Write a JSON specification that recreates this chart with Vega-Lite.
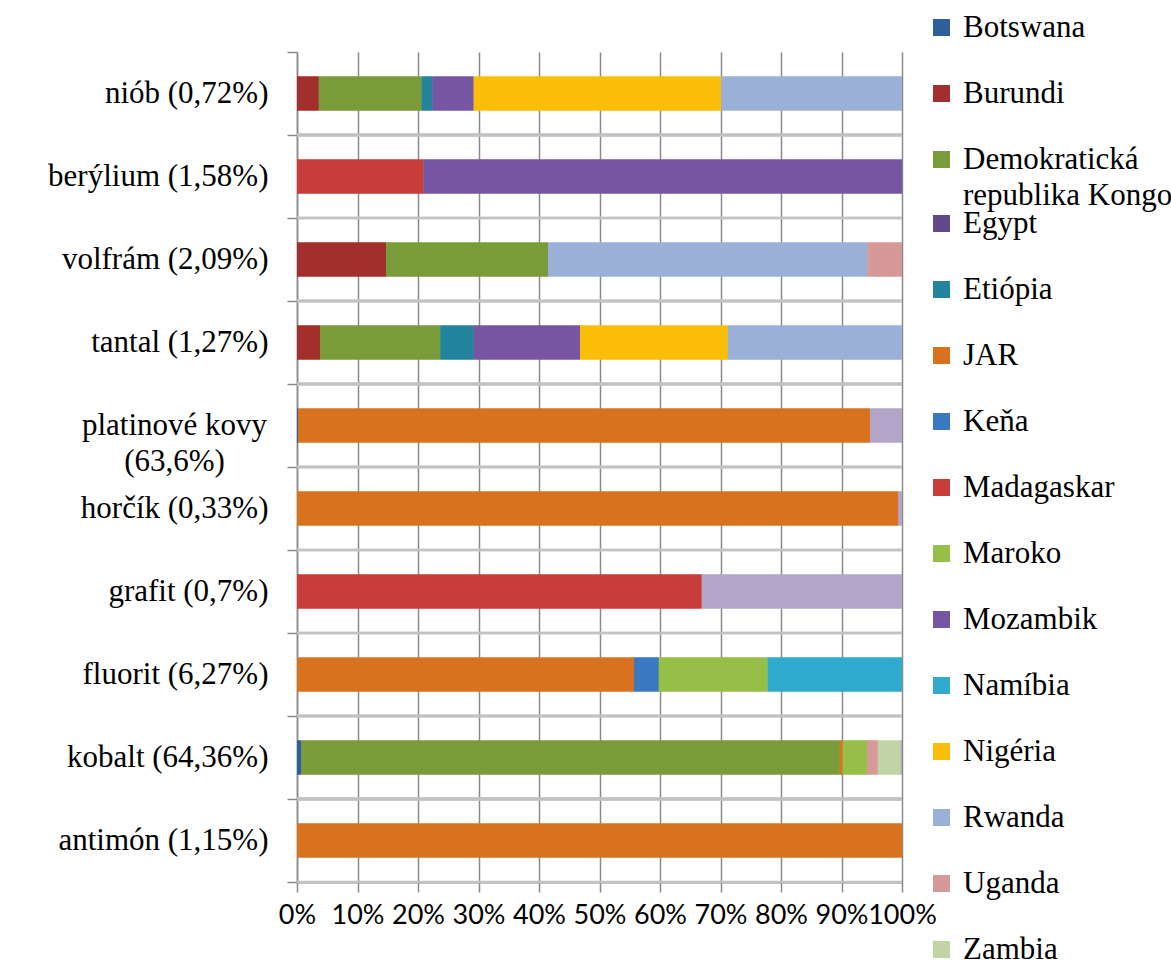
{
  "$schema": "https://vega.github.io/schema/vega-lite/v6.json",
  "autosize": {"type": "none"},
  "width": 605,
  "height": 830,
  "padding": {"left": 297, "top": 52, "right": 269, "bottom": 97},
  "background": "white",
  "data": {
    "values": [
      {"m": "niób (0,72%)", "k": "Burundi", "p": 3.6},
      {"m": "niób (0,72%)", "k": "Demokratická republika Kongo", "p": 17.0},
      {"m": "niób (0,72%)", "k": "Etiópia", "p": 1.8},
      {"m": "niób (0,72%)", "k": "Mozambik", "p": 6.8},
      {"m": "niób (0,72%)", "k": "Nigéria", "p": 40.9},
      {"m": "niób (0,72%)", "k": "Rwanda", "p": 29.9},
      {"m": "berýlium (1,58%)", "k": "Madagaskar", "p": 20.9},
      {"m": "berýlium (1,58%)", "k": "Mozambik", "p": 79.1},
      {"m": "volfrám (2,09%)", "k": "Burundi", "p": 14.7},
      {"m": "volfrám (2,09%)", "k": "Demokratická republika Kongo", "p": 26.8},
      {"m": "volfrám (2,09%)", "k": "Rwanda", "p": 52.8},
      {"m": "volfrám (2,09%)", "k": "Uganda", "p": 5.7},
      {"m": "tantal (1,27%)", "k": "Burundi", "p": 3.8},
      {"m": "tantal (1,27%)", "k": "Demokratická republika Kongo", "p": 19.9},
      {"m": "tantal (1,27%)", "k": "Etiópia", "p": 5.5},
      {"m": "tantal (1,27%)", "k": "Mozambik", "p": 17.6},
      {"m": "tantal (1,27%)", "k": "Nigéria", "p": 24.4},
      {"m": "tantal (1,27%)", "k": "Rwanda", "p": 28.8},
      {"m": "platinové kovy (63,6%)", "k": "Botswana", "p": 0.2},
      {"m": "platinové kovy (63,6%)", "k": "JAR", "p": 94.5},
      {"m": "platinové kovy (63,6%)", "k": "Zimbabwe", "p": 5.3},
      {"m": "horčík (0,33%)", "k": "JAR", "p": 99.4},
      {"m": "horčík (0,33%)", "k": "Zimbabwe", "p": 0.6},
      {"m": "grafit (0,7%)", "k": "Madagaskar", "p": 66.9},
      {"m": "grafit (0,7%)", "k": "Zimbabwe", "p": 33.1},
      {"m": "fluorit (6,27%)", "k": "JAR", "p": 55.7},
      {"m": "fluorit (6,27%)", "k": "Keňa", "p": 4.1},
      {"m": "fluorit (6,27%)", "k": "Maroko", "p": 18.0},
      {"m": "fluorit (6,27%)", "k": "Namíbia", "p": 22.2},
      {"m": "kobalt (64,36%)", "k": "Botswana", "p": 0.7},
      {"m": "kobalt (64,36%)", "k": "Demokratická republika Kongo", "p": 89.0},
      {"m": "kobalt (64,36%)", "k": "JAR", "p": 0.5},
      {"m": "kobalt (64,36%)", "k": "Maroko", "p": 4.0},
      {"m": "kobalt (64,36%)", "k": "Uganda", "p": 1.8},
      {"m": "kobalt (64,36%)", "k": "Zambia", "p": 3.8},
      {"m": "kobalt (64,36%)", "k": "Zimbabwe", "p": 0.2},
      {"m": "antimón (1,15%)", "k": "JAR", "p": 100}
    ]
  },
  "encoding": {
    "y": {
      "field": "m",
      "type": "nominal",
      "sort": ["niób (0,72%)", "berýlium (1,58%)", "volfrám (2,09%)", "tantal (1,27%)", "platinové kovy (63,6%)", "horčík (0,33%)", "grafit (0,7%)", "fluorit (6,27%)", "kobalt (64,36%)", "antimón (1,15%)"],
      "scale": {"paddingInner": 0, "paddingOuter": 0},
      "axis": {
        "title": null,
        "grid": false,
        "tickBand": "extent",
        "domainColor": "#8a8a8a",
        "domainWidth": 1.5,
        "tickColor": "#8a8a8a",
        "tickWidth": 1.5,
        "tickSize": 10,
        "labelFont": "Liberation Serif",
        "labelFontSize": 31,
        "labelColor": "#000000",
        "labelLimit": 400,
        "labelLineHeight": 36,
        "labelPadding": {"condition": {"test": "datum.value == 'platinové kovy (63,6%)'", "value": 113}, "value": 19},
        "labelAlign": {"condition": {"test": "datum.value == 'platinové kovy (63,6%)'", "value": "center"}, "value": "right"},
        "labelExpr": "datum.value == 'platinové kovy (63,6%)' ? ['platinové kovy', '(63,6%)'] : datum.value"
      }
    }
  },
  "layer": [
    {
      "mark": {"type": "rule", "color": "#c2c2c2", "strokeWidth": 2.5},
      "encoding": {
        "y": {
          "field": "m",
          "type": "nominal",
          "bandPosition": 1,
          "sort": ["niób (0,72%)", "berýlium (1,58%)", "volfrám (2,09%)", "tantal (1,27%)", "platinové kovy (63,6%)", "horčík (0,33%)", "grafit (0,7%)", "fluorit (6,27%)", "kobalt (64,36%)", "antimón (1,15%)"]
        }
      }
    },
    {
      "mark": {"type": "bar", "height": {"band": 0.41}},
      "encoding": {
        "x": {
          "field": "p",
          "type": "quantitative",
          "stack": "normalize",
          "scale": {"domain": [0, 1], "nice": false},
          "axis": {
            "title": null,
            "format": ".0%",
            "values": [0, 0.1, 0.2, 0.3, 0.4, 0.5, 0.6, 0.7, 0.8, 0.9, 1],
            "grid": true,
            "gridColor": "#8a8a8a",
            "gridWidth": 1.5,
            "domainColor": "#8a8a8a",
            "domainWidth": 2,
            "tickColor": "#8a8a8a",
            "tickWidth": 1.5,
            "tickSize": 10,
            "labelFont": "Lato",
            "labelFontSize": 27,
            "labelColor": "#000000",
            "labelPadding": 10,
            "labelFlush": false,
            "labelOverlap": false
          }
        },
        "color": {
          "field": "k",
          "type": "nominal",
          "scale": {
            "domain": ["Botswana", "Burundi", "Demokratická republika Kongo", "Egypt", "Etiópia", "JAR", "Keňa", "Madagaskar", "Maroko", "Mozambik", "Namíbia", "Nigéria", "Rwanda", "Uganda", "Zambia", "Zimbabwe"],
            "range": ["#2d5f9c", "#a32f2c", "#7a9b3a", "#624a8a", "#24849e", "#d8721f", "#3a78c2", "#c83c39", "#95bf46", "#7656a2", "#30aacd", "#fbbe08", "#9bb0d6", "#d79898", "#c0d4a6", "#b2a5c7"]
          },
          "legend": {
            "title": null,
            "orient": "none",
            "legendX": 629,
            "legendY": -40,
            "padding": 0,
            "values": ["Botswana", "Burundi", "Demokratická republika Kongo"],
            "symbolType": "square",
            "symbolSize": 289,
            "symbolStrokeWidth": 0,
            "labelFont": "Liberation Serif",
            "labelFontSize": 31,
            "labelColor": "#000000",
            "labelLimit": 400,
            "labelOffset": 6,
            "rowPadding": 34,
            "labelExpr": "datum.label == 'Demokratická republika Kongo' ? ['Demokratická', 'republika Kongo'] : datum.label",
            "encode": {"labels": {"update": {"lineHeight": {"value": 36}}}}
          }
        }
      }
    },
    {
      "mark": {"type": "bar", "height": {"band": 0.41}},
      "encoding": {
        "x": {
          "field": "p",
          "type": "quantitative",
          "stack": "normalize"
        },
        "color": {
          "field": "k",
          "type": "nominal",
          "legend": {
            "title": null,
            "orient": "none",
            "legendX": 629,
            "legendY": 156,
            "padding": 0,
            "values": ["Egypt", "Etiópia", "JAR", "Keňa", "Madagaskar", "Maroko", "Mozambik", "Namíbia", "Nigéria", "Rwanda", "Uganda", "Zambia"],
            "symbolType": "square",
            "symbolSize": 289,
            "symbolStrokeWidth": 0,
            "labelFont": "Liberation Serif",
            "labelFontSize": 31,
            "labelColor": "#000000",
            "labelLimit": 400,
            "labelOffset": 6,
            "rowPadding": 34
          }
        }
      }
    }
  ],
  "resolve": {"legend": {"color": "independent"}},
  "config": {"view": {"stroke": null}}
}
